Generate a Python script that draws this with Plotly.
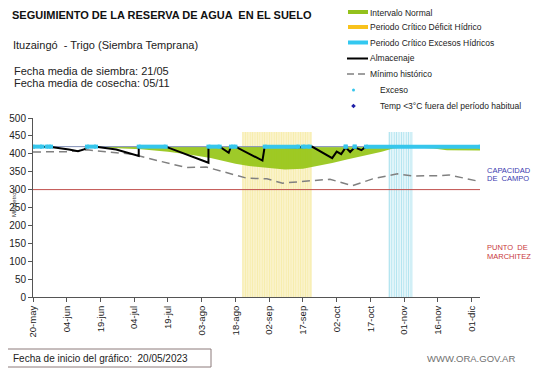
import datetime as _dt
import plotly.graph_objects as go

# ---------------- data ----------------
tick_dates = ["2023-05-20", "2023-06-04", "2023-06-19", "2023-07-04", "2023-07-19",
              "2023-08-03", "2023-08-18", "2023-09-02", "2023-09-17", "2023-10-02",
              "2023-10-17", "2023-11-01", "2023-11-16", "2023-12-01"]
tick_labels = ["20-may", "04-jun", "19-jun", "04-jul", "19-jul", "03-ago", "18-ago",
               "02-sep", "17-sep", "02-oct", "17-oct", "01-nov", "16-nov", "01-dic"]

almac_dates = ["2023-05-20", "2023-05-28", "2023-06-05", "2023-06-09", "2023-06-12",
               "2023-06-13", "2023-06-17", "2023-06-26", "2023-07-06", "2023-07-06",
               "2023-07-18", "2023-07-25", "2023-08-01", "2023-08-06", "2023-08-06",
               "2023-08-11", "2023-08-15", "2023-08-16", "2023-08-18", "2023-08-24",
               "2023-08-30", "2023-08-31", "2023-09-16", "2023-09-21", "2023-09-30",
               "2023-10-02", "2023-10-04", "2023-10-06", "2023-10-08", "2023-10-10",
               "2023-10-13", "2023-10-15"]
almac_values = [420, 419, 412, 407, 413,
                420, 420, 412, 394, 420,
                420, 404, 388, 375, 420,
                420, 403, 420, 420, 400,
                381, 420, 418, 420, 388,
                406, 399, 418, 405, 418,
                410, 420]

min_dates = ["2023-05-20", "2023-06-04", "2023-06-13", "2023-06-23", "2023-07-03",
             "2023-07-15", "2023-07-27", "2023-08-05", "2023-08-17", "2023-08-23",
             "2023-09-01", "2023-09-08", "2023-09-19", "2023-09-29", "2023-10-09",
             "2023-10-18", "2023-10-29", "2023-11-05", "2023-11-17", "2023-11-21",
             "2023-12-05"]
min_values = [405, 406, 411, 406, 399,
              380, 362, 363, 343, 332,
              330, 318, 324, 329, 311,
              330, 344, 338, 339, 341,
              322]

normal_dates = ["2023-06-14", "2023-06-19", "2023-06-29", "2023-07-07", "2023-07-19",
                "2023-07-29", "2023-08-07", "2023-08-18", "2023-08-24", "2023-09-02",
                "2023-09-09", "2023-09-17", "2023-09-21", "2023-09-30", "2023-10-07",
                "2023-10-13", "2023-10-22", "2023-10-27", "2023-11-02", "2023-11-08",
                "2023-11-14", "2023-11-20", "2023-11-28", "2023-12-05"]
normal_upper = [420, 420, 420, 420, 420,
                419, 419, 418, 418, 418,
                418, 418, 418, 419, 419,
                419, 419, 419, 420, 420,
                419, 418, 418, 418]
normal_lower = [420, 418, 415, 413, 406,
                397, 388, 372, 366, 360,
                356, 358, 363, 374, 385,
                393, 406, 415, 418, 417,
                415, 410, 409, 409]

exceso_ranges = [("2023-05-20", "2023-05-24"), ("2023-05-26", "2023-05-28"),
                 ("2023-06-13", "2023-06-17"), ("2023-07-06", "2023-07-18"),
                 ("2023-08-06", "2023-08-11"), ("2023-08-16", "2023-08-18"),
                 ("2023-08-31", "2023-09-15"), ("2023-09-17", "2023-09-20"),
                 ("2023-10-06", "2023-10-06"), ("2023-10-10", "2023-10-10"),
                 ("2023-10-15", "2023-12-05")]
exceso_level = 420

deficit_period = ("2023-08-21", "2023-09-21")
excesos_period = ("2023-10-25", "2023-11-05")
period_top = 460

capacidad_campo = 420
punto_marchitez = 300
x_range = ["2023-05-20", "2023-12-04 17:00"]

# ---------------- layout helpers ----------------
# page has an 8px body margin; figure fills the rest of the 541x368 window
OFF = 8
W, H = 541 - OFF, 368 - OFF
L, R, T, B = 33 - OFF, 61, 118 - OFF, 71
PW, PH = W - L - R, H - T - B
FONT = "Liberation Sans, Arial, sans-serif"


def px(x):  # x in page pixels
    return (x - OFF - L) / PW


def py(y):  # y in page pixels
    return (H - B - (y - OFF)) / PH


def _d(s):
    return _dt.datetime.fromisoformat(s)


fig = go.Figure()

# critical periods (striped bars)
for (s, e), fg, sol in [(deficit_period, "#F0D955", 0.74), (excesos_period, "#5EC6DE", 0.55)]:
    ds, de = _d(s), _d(e)
    mid = ds + (de - ds) / 2
    fig.add_trace(go.Bar(
        x=[mid], y=[period_top], width=[(de - ds).total_seconds() * 1000],
        marker=dict(color="white", line=dict(width=0),
                    pattern=dict(shape="|", fgcolor=fg, bgcolor="white", size=2.4, solidity=sol)),
        showlegend=False, hoverinfo="skip"))

# normal interval band
fig.add_trace(go.Scatter(x=normal_dates, y=normal_lower, mode="lines",
                         line=dict(width=0, color="rgba(0,0,0,0)"), showlegend=False,
                         hoverinfo="skip"))
fig.add_trace(go.Scatter(x=normal_dates, y=normal_upper, mode="lines",
                         line=dict(width=0, color="rgba(0,0,0,0)"), fill="tonexty",
                         fillcolor="rgba(148,196,18,0.9)", showlegend=False))

# reference lines
fig.add_trace(go.Scatter(x=x_range, y=[capacidad_campo] * 2, mode="lines",
                         line=dict(color="#7F8DB5", width=1), showlegend=False))
fig.add_trace(go.Scatter(x=x_range, y=[punto_marchitez] * 2, mode="lines",
                         line=dict(color="#C0504D", width=1), showlegend=False))

# minimum historical
fig.add_trace(go.Scatter(x=min_dates, y=min_values, mode="lines",
                         line=dict(color="#808080", width=1.5, dash="8px,5px"),
                         showlegend=False))

# storage
fig.add_trace(go.Scatter(x=almac_dates, y=almac_values, mode="lines",
                         line=dict(color="black", width=2), showlegend=False))

# excess
ex_x, ex_y = [], []
for s, e in exceso_ranges:
    ex_x += [s, e, None]
    ex_y += [exceso_level, exceso_level, None]
fig.add_trace(go.Scatter(x=ex_x, y=ex_y, mode="lines+markers",
                         line=dict(color="#36C6EC", width=4),
                         marker=dict(color="#36C6EC", size=4, symbol="square"),
                         showlegend=False))

# ---------------- annotations ----------------
ann = []


def text(x, y, t, size, color="#111", bold=False, anchor="left", angle=0, family=FONT):
    if bold:
        t = "<b>" + t + "</b>"
    ann.append(dict(x=px(x), y=py(y), xref="paper", yref="paper", text=t, showarrow=False,
                    xanchor=anchor, yanchor="middle", textangle=angle, borderpad=0,
                    font=dict(size=size, color=color, family=family)))


text(11, 15, "SEGUIMIENTO DE LA RESERVA DE AGUA  EN EL SUELO", 11, bold=True)
text(12, 45, "Ituzaingó  - Trigo (Siembra Temprana)", 11, color="#222")
text(13, 71.5, "Fecha media de siembra: 21/05", 11, color="#222")
text(13, 82.5, "Fecha media de cosecha: 05/11", 11, color="#222")

text(14, 203, "Milímetros", 6, color="#333", anchor="center", angle=-90)

text(486, 170, "CAPACIDAD", 7.5, color="#3B3BB0")
text(486, 178.5, "DE  CAMPO", 7.5, color="#3B3BB0")
text(486, 247.5, "PUNTO  DE", 7.5, color="#C8383C")
text(486, 256, "MARCHITEZ", 7.5, color="#C8383C")

text(12, 358.5, "Fecha de inicio del gráfico:  20/05/2023", 10, color="#222")
text(426, 358.5, "WWW.ORA.GOV.AR", 9.5, color="#707070")

# legend
leg_rows = [(12.5, "Intervalo Normal"), (27, "Periodo Crítico Déficit Hídrico"),
            (42.5, "Periodo Crítico Excesos Hídricos"), (58.5, "Almacenaje"),
            (74, "Mínimo histórico")]
for y, t in leg_rows:
    text(369, y, t, 8.5, color="#222")
text(379, 90, "Exceso", 8.5, color="#222")
text(379, 106, "Temp <3°C fuera del período habitual", 8.5, color="#222")

shapes = []


def hline(x0, x1, y, color, width, dash=None):
    d = dict(type="line", xref="paper", yref="paper", x0=px(x0), x1=px(x1), y0=py(y), y1=py(y),
             line=dict(color=color, width=width))
    if dash:
        d["line"]["dash"] = dash
    shapes.append(d)


hline(348, 368, 12, "#93C11C", 4)
hline(348, 368, 27, "#F8C21C", 4)
hline(348, 368, 42.5, "#33C8F0", 4)
hline(347, 368, 58.5, "black", 2)
hline(347, 368, 74, "#808080", 1.5, dash="7px,4px")
shapes.append(dict(type="circle", xref="paper", yref="paper", x0=px(352), x1=px(355),
                   y0=py(91.5), y1=py(88.5), fillcolor="#36C6EC", line=dict(width=0)))
cx, cy, r = 353.5, 106, 2.3
shapes.append(dict(type="path", xref="paper", yref="paper",
                   path=f"M {px(cx)} {py(cy - r)} L {px(cx + r)} {py(cy)} L {px(cx)} {py(cy + r)} L {px(cx - r)} {py(cy)} Z",
                   fillcolor="#1F1FA8", line=dict(width=0)))

# bottom box
shapes.append(dict(type="rect", xref="paper", yref="paper", x0=px(3.5), x1=px(211),
                   y0=py(367), y1=py(349), line=dict(color="#8C7B7B", width=1)))

fig.update_layout(
    width=W, height=H, autosize=False,
    margin=dict(l=L, r=R, t=T, b=B),
    paper_bgcolor="white", plot_bgcolor="white",
    barmode="overlay", bargap=0,
    showlegend=False,
    annotations=ann, shapes=shapes,
    font=dict(family=FONT, color="#222"),
    xaxis=dict(type="date", range=x_range, tickvals=tick_dates, ticktext=tick_labels,
               tickangle=-90, tickfont=dict(size=9.5, color="#222"), ticks="outside",
               ticklen=4, tickcolor="#555", showline=True, linecolor="#555", linewidth=1,
               showgrid=False, zeroline=False, automargin=False),
    yaxis=dict(range=[0, 500], tickvals=list(range(0, 501, 50)),
               tickfont=dict(size=10, color="#222"), ticks="outside", ticklen=4,
               tickcolor="#555", showline=True, linecolor="#555", linewidth=1,
               showgrid=False, zeroline=False, automargin=False),
)

fig.write_html("out.html")
